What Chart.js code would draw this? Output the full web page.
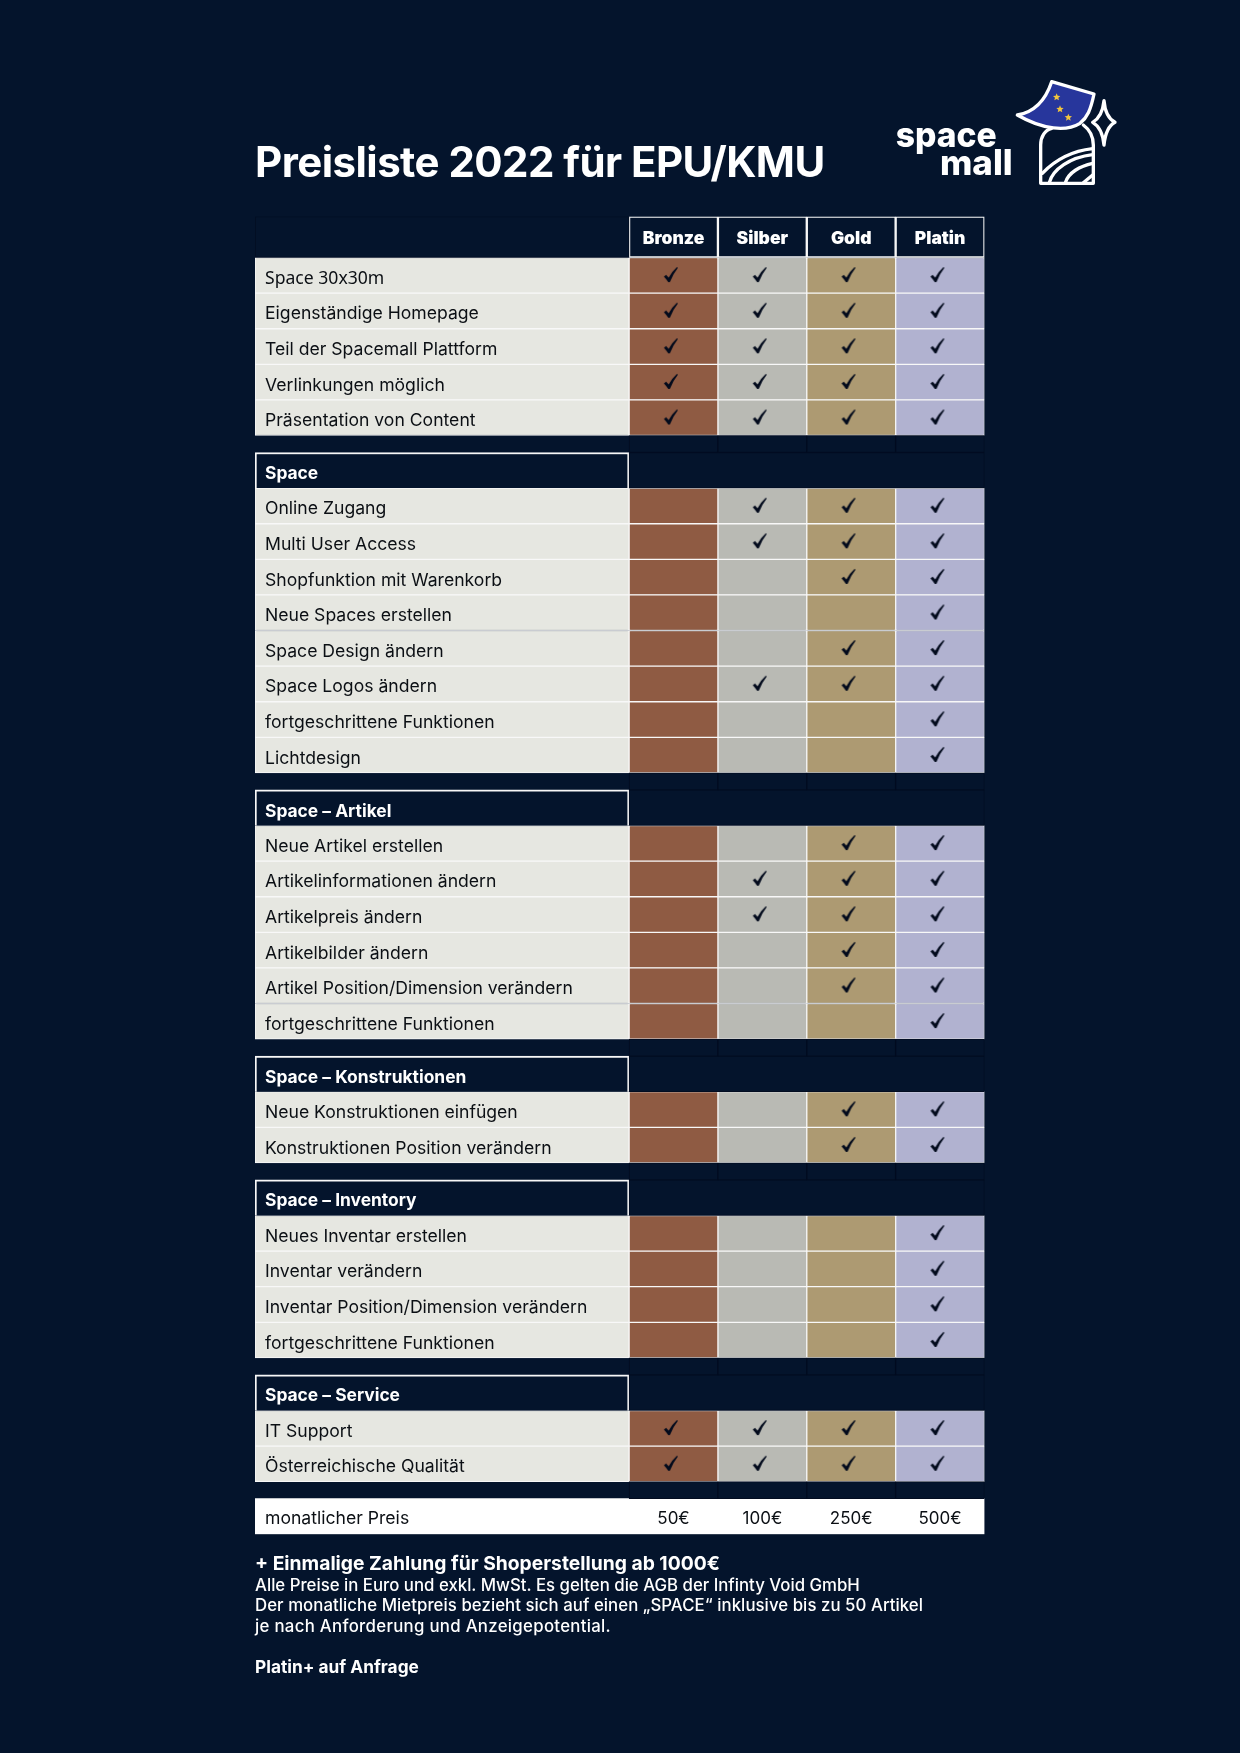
<!DOCTYPE html>
<html lang="de">
<head>
<meta charset="utf-8">
<title>Preisliste 2022 für EPU/KMU</title>
<script src="https://cdn.jsdelivr.net/npm/chart.js@4"></script>
<style>
html,body{margin:0;padding:0;width:1240px;height:1753px;background:#04142C;overflow:hidden}
canvas{position:absolute;left:0;top:0}
#title{position:absolute;left:255px;top:136px;color:#fff;font:700 42px Inter,sans-serif;white-space:nowrap;letter-spacing:-0.55px}
#logo{position:absolute;left:880px;top:60px}
.f{position:absolute;left:255px;color:#fff;white-space:nowrap;font:500 16.8px Inter,sans-serif;line-height:20px}
.b{font-weight:700}
</style>
</head>
<body>
<canvas id="c" width="1240" height="1753"></canvas>
<div id="title">Preisliste 2022 für EPU/KMU</div>
<svg id="logo" width="260" height="140" viewBox="0 0 780 420" fill="none" stroke="#fff" stroke-width="10" stroke-linejoin="round" stroke-linecap="round">
  <path d="M412 165C470 155 500 110 515 65L642 102C632 150 622 172 600 190C560 215 490 210 412 165Z" fill="#27369C"/>
  <g fill="#F2C53D" stroke="none">
    <path d="M530 100l3 7 8 1-6 5 2 8-7-4-7 4 2-8-6-5 8-1z"/>
    <path d="M540 136l3 7 8 1-6 5 2 8-7-4-7 4 2-8-6-5 8-1z"/>
    <path d="M565 161l3 7 8 1-6 5 2 8-7-4-7 4 2-8-6-5 8-1z"/>
  </g>
  <path d="M515 205C495 210 482 230 482 255V370H640V255C640 230 630 210 610 195"/>
  <path d="M487 340C530 295 585 272 638 266M508 368C518 328 570 292 638 284M556 368C565 338 600 318 638 310M610 368L638 345"/>
  <path d="M672 122C675 160 688 178 705 187C688 196 676 215 672 255C668 215 654 196 638 187C654 178 668 160 672 122Z"/>
  <g fill="#fff" stroke="none" font-family="Inter,sans-serif" font-weight="800" font-size="106" text-anchor="start">
    <text x="47" y="262" textLength="303" lengthAdjust="spacingAndGlyphs">space</text>
    <text x="180" y="345" textLength="218" lengthAdjust="spacingAndGlyphs">mall</text>
  </g>
</svg>
<div class="f b" style="top:1553px;font-size:19.3px">+ Einmalige Zahlung für Shoperstellung ab 1000€</div>
<div class="f" style="top:1575px">Alle Preise in Euro und exkl. MwSt. Es gelten die AGB der Infinty Void GmbH</div>
<div class="f" style="top:1595px;letter-spacing:.05px">Der monatliche Mietpreis bezieht sich auf einen „SPACE“ inklusive bis zu 50 Artikel</div>
<div class="f" style="top:1616px;letter-spacing:.3px">je nach Anforderung und Anzeigepotential.</div>
<div class="f b" style="top:1657px;font-size:17.3px">Platin+ auf Anfrage</div>
<script>
const tiers = ["Bronze", "Silber", "Gold", "Platin"];
const prices = ["50€", "100€", "250€", "500€"];
const tierColors = ["#8F5B43", "#B9BAB4", "#AD9A72", "#B1B2D0"];
const sectionTitles = [null, "Space", "Space – Artikel", "Space – Konstruktionen", "Space – Inventory", "Space – Service"];
const sectionRows = [
  ["Space 30x30m", "Eigenständige Homepage", "Teil der Spacemall Plattform", "Verlinkungen möglich", "Präsentation von Content"],
  ["Online Zugang", "Multi User Access", "Shopfunktion mit Warenkorb", "Neue Spaces erstellen", "Space Design ändern", "Space Logos ändern", "fortgeschrittene Funktionen", "Lichtdesign"],
  ["Neue Artikel erstellen", "Artikelinformationen ändern", "Artikelpreis ändern", "Artikelbilder ändern", "Artikel Position/Dimension verändern", "fortgeschrittene Funktionen"],
  ["Neue Konstruktionen einfügen", "Konstruktionen Position verändern"],
  ["Neues Inventar erstellen", "Inventar verändern", "Inventar Position/Dimension verändern", "fortgeschrittene Funktionen"],
  ["IT Support", "Österreichische Qualität"]
];
const priceLabel = "monatlicher Preis";
const bronzeChecks = [1,1,1,1,1, 0,0,0,0,0,0,0,0, 0,0,0,0,0,0, 0,0, 0,0,0,0, 1,1];
const silberChecks = [1,1,1,1,1, 1,1,0,0,0,1,0,0, 0,1,1,0,0,0, 0,0, 0,0,0,0, 1,1];
const goldChecks   = [1,1,1,1,1, 1,1,1,0,1,1,0,0, 1,1,1,1,1,0, 1,1, 0,0,0,0, 1,1];
const platinChecks = [1,1,1,1,1, 1,1,1,1,1,1,1,1, 1,1,1,1,1,1, 1,1, 1,1,1,1, 1,1];
const tierChecks = [bronzeChecks, silberChecks, goldChecks, platinChecks];

/* layout of the table, in row units / column units */
const ROW_PX = 35.6, HEAD = 1.152, GAP = 0.4775, LABEL_W = 4.21;
const X_MAX = LABEL_W + tiers.length;
const NAVY = "#04142C", DARK = "#020C20", LIGHT = "#E6E7E1", EDGE = "#F8F8F8";

const bodyY = [], ticks = [], gapY = [], sectionY = [];
let cursor = HEAD;
sectionRows.forEach((rows, s) => {
  if (sectionTitles[s]) {
    sectionY.push(cursor + .5);
    ticks.push({value: cursor + .6, label: sectionTitles[s], section: true});
    cursor += 1;
  }
  rows.forEach(r => {
    bodyY.push(cursor + .5);
    ticks.push({value: cursor + .59, label: r});
    cursor += 1;
  });
  gapY.push(cursor + GAP / 2);
  cursor += GAP;
});
const priceY = cursor + .5;
ticks.push({value: cursor + .55, label: priceLabel});
const Y_MAX = cursor + 1;
const tierRange = i => [LABEL_W + i, LABEL_W + i + 1];
const tierCentres = tiers.map((_, i) => LABEL_W + i + .5);

function checkCanvas() {
  const k = document.createElement("canvas");
  k.width = 16; k.height = 17;
  const g = k.getContext("2d");
  g.fillStyle = "#020A1C";
  g.beginPath();
  g.moveTo(1, 10.5); g.lineTo(3.2, 8.8); g.lineTo(5.8, 11.6);
  g.quadraticCurveTo(9, 5.5, 14, 1); g.lineTo(15, 1.8);
  g.quadraticCurveTo(10, 8, 7, 16); g.lineTo(5.4, 16);
  g.quadraticCurveTo(3.4, 13, 1, 10.5);
  g.closePath(); g.fill();
  return k;
}
const mark = checkCanvas();

const bar = (o) => Object.assign({type: "bar", indexAxis: "y", grouped: false, borderSkipped: false, order: 2, xAxisID: "x", yAxisID: "y"}, o);
const datasets = [];
datasets.push(bar({label: "Kopf", data: [{x: [0, LABEL_W], y: HEAD / 2}], barThickness: HEAD * ROW_PX, backgroundColor: NAVY, borderColor: DARK, borderWidth: 1}));
datasets.push(bar({label: "Stufen", data: tiers.map((_, i) => ({x: tierRange(i), y: HEAD / 2})), barThickness: HEAD * ROW_PX, backgroundColor: NAVY, borderColor: EDGE, borderWidth: 1.5}));
datasets.push(bar({label: "Leerzeilen", data: gapY.flatMap(y => tiers.map((_, i) => ({x: tierRange(i), y}))), barThickness: GAP * ROW_PX, backgroundColor: NAVY, borderColor: DARK, borderWidth: 1}));
datasets.push(bar({label: "Abschnittsrest", data: sectionY.map(y => ({x: [LABEL_W, X_MAX], y})), barThickness: ROW_PX, backgroundColor: NAVY, borderColor: DARK, borderWidth: 1}));
datasets.push(bar({label: "Abschnitte", data: sectionY.map(y => ({x: [0, LABEL_W], y})), barThickness: ROW_PX, backgroundColor: NAVY, borderColor: EDGE, borderWidth: {top: 2, left: 2, right: 2, bottom: 0}}));
datasets.push(bar({label: "Merkmale", data: bodyY.map(y => ({x: [0, LABEL_W], y})), barThickness: ROW_PX, backgroundColor: LIGHT, borderColor: EDGE, borderWidth: 1}));
tiers.forEach((t, i) => {
  datasets.push(bar({label: t, data: bodyY.map(y => ({x: tierRange(i), y})), barThickness: ROW_PX, backgroundColor: tierColors[i], borderColor: EDGE, borderWidth: 1}));
  datasets.push({
    type: "scatter", indexAxis: "x", label: t + " enthalten", order: 0, xAxisID: "x", yAxisID: "y",
    data: bodyY.filter((_, r) => tierChecks[i][r]).map(y => ({x: tierCentres[i] - 0.03, y: y - 0.02})),
    pointStyle: mark, pointRadius: 8
  });
});
datasets.push(bar({label: "Preis", data: [{x: [0, X_MAX], y: priceY}], barThickness: ROW_PX, backgroundColor: "#FFFFFF", borderWidth: 0}));

const noHeight = s => { s.height = 0; };
new Chart(document.getElementById("c"), {
  type: "bar",
  data: {labels: [], datasets},
  options: {
    responsive: false, animation: false, indexAxis: "y",
    devicePixelRatio: 1,
    layout: {padding: {left: 255, right: 255.5, top: 216.5, bottom: 1753 - 1534.3}},
    plugins: {legend: {display: false}, tooltip: {enabled: false}},
    scales: {
      x: {type: "linear", min: 0, max: X_MAX, display: false, offset: false},
      y: {
        type: "linear", min: 0, max: Y_MAX, reverse: true, position: "left", offset: false,
        grid: {display: false, drawTicks: false}, border: {display: false},
        afterFit: s => { s.width = 0; s.paddingTop = 0; s.paddingBottom = 0; },
        afterBuildTicks: s => { s.ticks = ticks.map(t => ({value: t.value})); },
        ticks: {
          mirror: true, padding: 10, z: 2, autoSkip: false, includeBounds: false,
          callback: (v, i) => ticks[i].label,
          color: c => ticks[c.index] && ticks[c.index].section ? "#FFFFFF" : "#0B0F14",
          font: c => {
            const t = ticks[c.index];
            if (t && t.section) return {family: "Inter", size: 17.4, weight: "700"};
            if (t && /\dx\d/.test(t.label)) return {family: "Noto Sans", size: 17.6, weight: "400"};
            return {family: "Inter", size: 17.6, weight: "400"};
          }
        }
      },
      xHead: {
        type: "linear", axis: "x", position: "top", min: 0, max: X_MAX,
        grid: {display: false, drawTicks: false}, border: {display: false},
        afterFit: noHeight,
        afterBuildTicks: s => { s.ticks = tierCentres.map(value => ({value})); },
        ticks: {mirror: true, padding: 11.5, z: 2, autoSkip: false, maxRotation: 0, minRotation: 0, color: "#FFFFFF",
          callback: (v, i) => tiers[i], font: {family: "Inter", size: 17.5, weight: "900"}}
      },
      xPrice: {
        type: "linear", axis: "x", position: "bottom", min: 0, max: X_MAX,
        grid: {display: false, drawTicks: false}, border: {display: false},
        afterFit: noHeight,
        afterBuildTicks: s => { s.ticks = tierCentres.map(value => ({value})); },
        ticks: {mirror: true, padding: 5.3, z: 2, autoSkip: false, maxRotation: 0, minRotation: 0, color: "#0B0F14",
          callback: (v, i) => prices[i], font: {family: "Inter", size: 17, weight: "400"}}
      }
    }
  }
});
</script>
</body>
</html>
